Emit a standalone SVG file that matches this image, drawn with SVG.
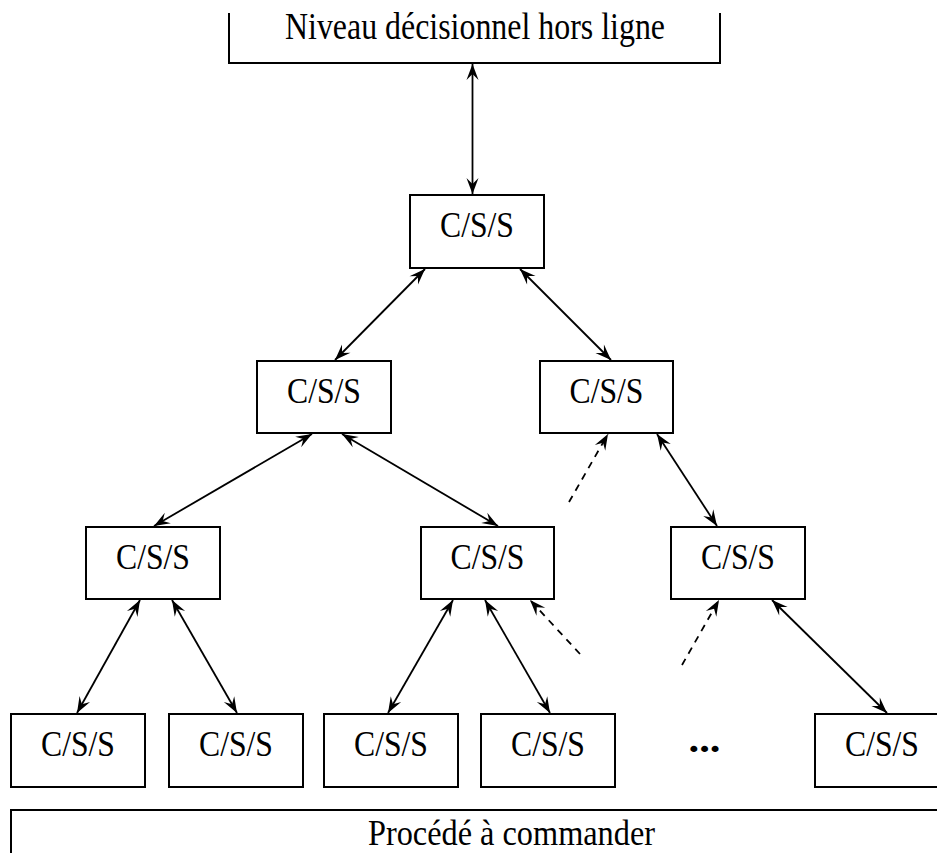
<svg xmlns="http://www.w3.org/2000/svg" width="937" height="853" viewBox="0 0 937 853">
<style>
.box{fill:#fff;stroke:#000;stroke-width:2}
.lbl{font-family:"Liberation Serif","Times New Roman",serif;font-size:36px;fill:#000;text-anchor:middle}
.big{font-family:"Liberation Serif","Times New Roman",serif;font-size:37px;fill:#000;text-anchor:middle}
.c{fill:none;stroke:#000;stroke-width:1.8;marker-end:url(#ah);marker-start:url(#ah)}
.d{fill:none;stroke:#000;stroke-width:1.8;stroke-dasharray:7 6;marker-end:url(#ah)}
</style>
<defs>
<marker id="ah" viewBox="-17 -7 19 14" refX="0" refY="0" markerWidth="19" markerHeight="14" markerUnits="userSpaceOnUse" orient="auto-start-reverse">
<path d="M0,0 L-16,-6 L-10,0 L-16,6 Z" fill="#000"/>
</marker>
</defs>
<rect width="937" height="853" fill="#fff"/>
<g id="top-level">
<path d="M229,13 V63 H720 V13" fill="none" stroke="#000" stroke-width="2"/>
<text class="big" x="475" y="39" textLength="380" lengthAdjust="spacingAndGlyphs">Niveau décisionnel hors ligne</text>
</g>
<g id="process">
<path d="M11,860 V810 H945" fill="none" stroke="#000" stroke-width="2"/>
<text class="big" x="511.5" y="845" textLength="287" lengthAdjust="spacingAndGlyphs" style="font-size:36px">Procédé à commander</text>
</g>
<g id="n0"><rect class="box" x="410" y="195" width="134" height="73"/><text class="lbl" x="477" y="237" textLength="74" lengthAdjust="spacingAndGlyphs">C/S/S</text></g>
<g id="n1"><rect class="box" x="257" y="361" width="134" height="72"/><text class="lbl" x="324" y="403" textLength="74" lengthAdjust="spacingAndGlyphs">C/S/S</text></g>
<g id="n2"><rect class="box" x="540" y="361" width="133" height="72"/><text class="lbl" x="606.5" y="403" textLength="74" lengthAdjust="spacingAndGlyphs">C/S/S</text></g>
<g id="n3"><rect class="box" x="86" y="527" width="134" height="72"/><text class="lbl" x="153" y="569" textLength="74" lengthAdjust="spacingAndGlyphs">C/S/S</text></g>
<g id="n4"><rect class="box" x="421" y="527" width="133" height="72"/><text class="lbl" x="487.5" y="569" textLength="74" lengthAdjust="spacingAndGlyphs">C/S/S</text></g>
<g id="n5"><rect class="box" x="671" y="527" width="134" height="72"/><text class="lbl" x="738" y="569" textLength="74" lengthAdjust="spacingAndGlyphs">C/S/S</text></g>
<g id="n6"><rect class="box" x="11" y="714" width="134" height="73"/><text class="lbl" x="78" y="756" textLength="74" lengthAdjust="spacingAndGlyphs">C/S/S</text></g>
<g id="n7"><rect class="box" x="169" y="714" width="134" height="73"/><text class="lbl" x="236" y="756" textLength="74" lengthAdjust="spacingAndGlyphs">C/S/S</text></g>
<g id="n8"><rect class="box" x="324" y="714" width="134" height="73"/><text class="lbl" x="391" y="756" textLength="74" lengthAdjust="spacingAndGlyphs">C/S/S</text></g>
<g id="n9"><rect class="box" x="481" y="714" width="134" height="73"/><text class="lbl" x="548" y="756" textLength="74" lengthAdjust="spacingAndGlyphs">C/S/S</text></g>
<g id="n10"><rect class="box" x="815" y="714" width="140" height="73"/><text class="lbl" x="882" y="756" textLength="74" lengthAdjust="spacingAndGlyphs">C/S/S</text></g>
<g id="ellipsis"><text class="lbl" x="704.5" y="752" textLength="32" lengthAdjust="spacingAndGlyphs" style="font-weight:bold;font-size:38px">...</text></g>
<g id="connectors">
<line class="c" x1="472.5" y1="64" x2="472.5" y2="194"/>
<line class="c" x1="425" y1="269" x2="335" y2="360"/>
<line class="c" x1="520" y1="269" x2="611" y2="360"/>
<line class="c" x1="312" y1="434" x2="154" y2="526"/>
<line class="c" x1="342" y1="434" x2="498" y2="526"/>
<line class="d" x1="569" y1="502" x2="608" y2="434"/>
<line class="c" x1="657" y1="434" x2="717" y2="526"/>
<line class="c" x1="140" y1="600" x2="77" y2="713"/>
<line class="c" x1="172" y1="600" x2="237" y2="713"/>
<line class="c" x1="453" y1="600" x2="388" y2="713"/>
<line class="c" x1="485" y1="600" x2="550" y2="713"/>
<line class="d" x1="580" y1="654" x2="530" y2="600"/>
<line class="d" x1="682" y1="665" x2="719" y2="600"/>
<line class="c" x1="772" y1="600" x2="887" y2="713"/>
</g>
</svg>
